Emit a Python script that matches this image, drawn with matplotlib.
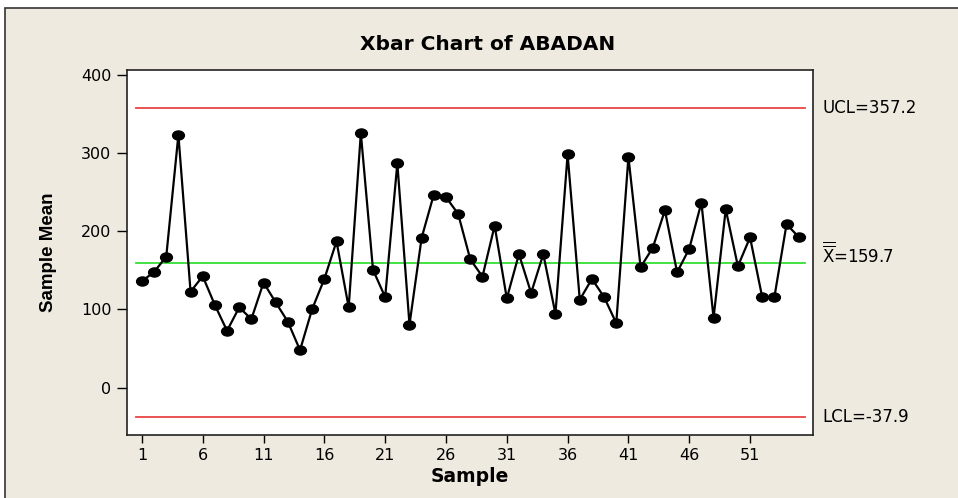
import matplotlib
matplotlib.use("Agg")
import matplotlib.pyplot as plt
from matplotlib.path import Path
from matplotlib.transforms import Affine2D
from matplotlib.patches import Rectangle

plt.rcParams['font.family'] = ['DejaVu Sans']
plt.rcParams['mathtext.fontset'] = 'custom'
plt.rcParams['mathtext.rm'] = 'DejaVu Sans'

sample_means = [136.1, 148.1, 167.4, 323.4, 122.8, 142.5, 105.7, 72.7, 102.7, 87.7,
                134.4, 109.1, 84.3, 47.9, 100.6, 139.1, 187.1, 102.7, 325.6, 150.8,
                115.8, 286.9, 80.7, 191.8, 247.1, 243.7, 222.3, 164.0, 142.1, 207.2,
                114.2, 170.8, 121.1, 170.8, 94.5, 298.5, 112.5, 139.1, 115.9, 82.5,
                295.1, 154.1, 178.9, 226.9, 147.6, 177.6, 236.8, 89.3, 228.2, 155.4,
                192.2, 115.7, 115.7, 209.1, 192.7]
samples = list(range(1, len(sample_means) + 1))
UCL = 357.2
CENTER = 159.7
LCL = -37.9
xticks = [1, 6, 11, 16, 21, 26, 31, 36, 41, 46, 51]
yticks = [0, 100, 200, 300, 400]

bg = '#EEEAE0'
fig = plt.figure(figsize=(9.58, 4.98), dpi=100, facecolor='white')
fig.patches.append(Rectangle((5/958, -0.1), 1.1, (498-8)/498 + 0.1, transform=fig.transFigure,
                             facecolor=bg, edgecolor='#333333', linewidth=1.2, zorder=-10))

ax = fig.add_axes([126.7/958, 1 - 435/498, (813.3-126.7)/958, (435-70)/498])
ax.set_facecolor('white')

x0, x1 = samples[0], samples[-1]
ax.plot([x0 - 0.5, x1 + 0.5], [UCL, UCL], color='#E84545', lw=1.3, zorder=2)
ax.plot([x0 - 0.5, x1 + 0.5], [LCL, LCL], color='#E84545', lw=1.3, zorder=2)
ax.plot([x0 - 0.5, x1 + 0.5], [CENTER, CENTER], color='#22DD22', lw=1.2, zorder=2)

ell = Path.unit_circle().transformed(Affine2D().scale(1.3, 1.0))
ax.plot(samples, sample_means, color='black', lw=1.6, marker=ell, markersize=8.5,
        markerfacecolor='black', markeredgecolor='black', zorder=3)

ax.set_xlim(-0.25, 56.2)
ax.set_ylim(-60.6, 406.4)
ax.set_xticks(xticks)
ax.set_yticks(yticks)
ax.tick_params(direction='out', length=7, width=1, labelsize=11.5, colors='black', pad=4)
ax.tick_params(axis='x', length=6, pad=3)
for s in ax.spines.values():
    s.set_linewidth(1.2)
    s.set_color('#222222')

ax.set_xlabel('Sample', fontsize=13.5, fontweight='bold', labelpad=3)
ax.set_ylabel('Sample Mean', fontsize=13.5, fontweight='bold', labelpad=17,
              family=['Liberation Sans', 'DejaVu Sans'])
fig.text(488/958, 1 - 44/498, 'Xbar Chart of ABADAN', ha='center', va='center',
         fontsize=14.5, fontweight='bold')

tr = ax.get_yaxis_transform()
lx = 1.0 + 9 / (813.3-126.7)
fs = 12
ax.text(lx, UCL, 'UCL=357.2', transform=tr, ha='left', va='center', fontsize=fs)
ax.text(lx, CENTER, r'$\overline{\overline{\mathrm{X}}}$=159.7', transform=tr,
        ha='left', va='baseline', fontsize=fs)
ax.text(lx, LCL, 'LCL=-37.9', transform=tr, ha='left', va='center', fontsize=fs)

fig.savefig('out.png', dpi=100, facecolor=fig.get_facecolor())
